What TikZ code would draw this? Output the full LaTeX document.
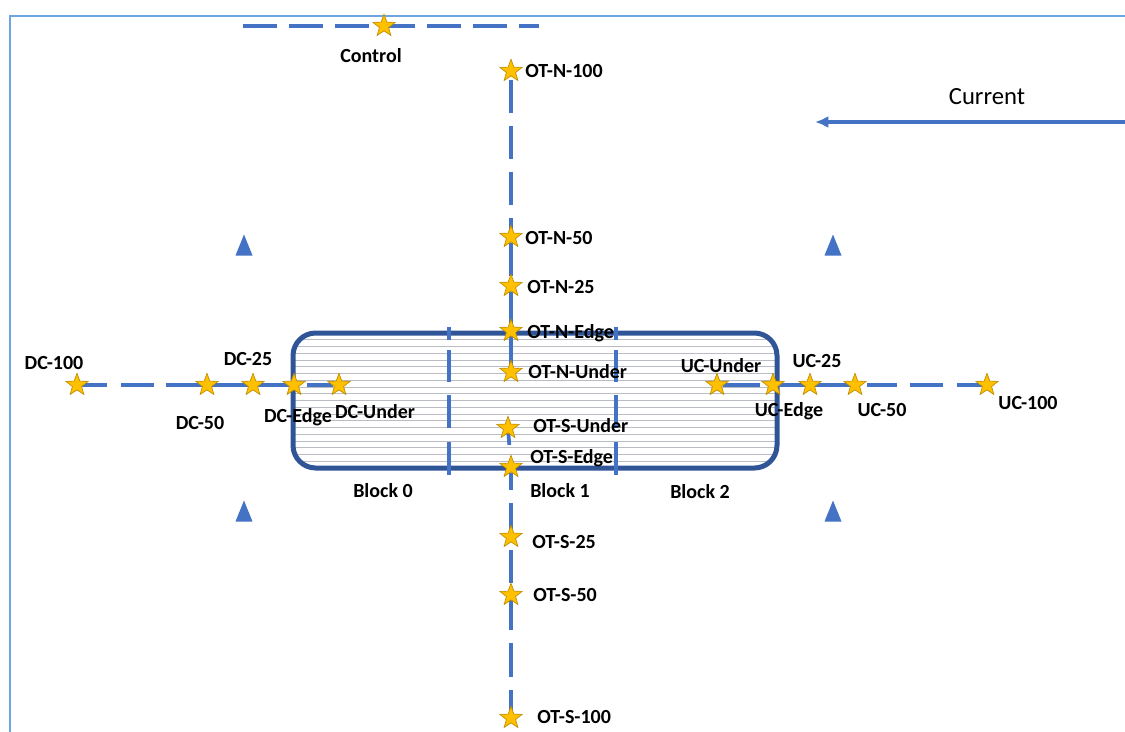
\documentclass[tikz,border=0pt]{standalone}
\usepackage{fontspec}
\setmainfont{Carlito}
\usetikzlibrary{shapes.geometric,arrows.meta}
\definecolor{lineblue}{RGB}{68,114,196}
\definecolor{darkblue}{RGB}{47,85,151}
\definecolor{frameblue}{RGB}{110,165,225}
\definecolor{hatchgray}{RGB}{185,188,195}
\definecolor{starfill}{RGB}{255,192,0}
\definecolor{staredge}{RGB}{190,140,0}
\pgfdeclarelayer{blk}
\pgfdeclarelayer{lns}
\pgfsetlayers{blk,lns,main}
\tikzset{tri/.pic={\fill[lineblue] (-8.5,10.5) -- (0,-10.5) -- (8.5,10.5) -- cycle;}}
\begin{document}
\begin{tikzpicture}[x=0.75pt,y=-0.75pt,
  startag/.style={star, star points=5, star point ratio=2.4, fill=starfill, draw=staredge, line width=0.5pt, minimum size=17.5pt, inner sep=0pt},
  lbl/.style={font=\bfseries\fontsize{15}{18}\selectfont, inner sep=0pt, text height=9.7pt, text depth=0pt},
  conn/.style={draw=lineblue, line width=2.8pt},
  hatchline/.style={draw=hatchgray, line width=0.6pt},
  blockbox/.style={draw=darkblue, line width=3.75pt, rounded corners=17pt, minimum width=363pt, minimum height=101.25pt, inner sep=0pt,
    path picture={\foreach \k in {1,...,19}{\draw[hatchline] ([yshift=-\k*5.0625pt]path picture bounding box.north west) -- ([yshift=-\k*5.0625pt]path picture bounding box.north east);}}},
  divider/.style={draw=lineblue, line width=2.4pt, dash pattern=on 9.75pt off 7.5pt on 24pt off 9.75pt on 24.75pt off 10.5pt on 24.75pt off 1pt},
  framestyle/.style={draw=frameblue, line width=2pt},
  arrowline/.style={draw=lineblue, line width=2.4pt, -{Latex[length=10pt,width=9pt]}}
]
\useasboundingbox (0,0) rectangle (1125,732);
% frame
\draw[framestyle] (10,732) -- (10,16) -- (1125,16);

% block
\begin{pgfonlayer}{blk}
\node (block) [blockbox] at (535,400.5) {};
\draw[divider] (449,327) -- (449,475);
\draw[divider] (616,327) -- (616,475);
\end{pgfonlayer}

% stars
\node (ctrl) [startag] at (384,26) {};
\node (otn100) [startag] at (511,71) {};
\node (otn50) [startag] at (511,237) {};
\node (otn25) [startag] at (511,286) {};
\node (otnedge) [startag] at (511,331) {};
\node (otnunder) [startag] at (511,372) {};
\node (otsunder) [startag] at (508,428) {};
\node (otsedge) [startag] at (511,467) {};
\node (ots25) [startag] at (511,537) {};
\node (ots50) [startag] at (511,595) {};
\node (ots100) [startag] at (511,718) {};
\node (dc100) [startag] at (77,385) {};
\node (dc50) [startag] at (207,385) {};
\node (dc25) [startag] at (253,385) {};
\node (dcedge) [startag] at (294,385) {};
\node (dcunder) [startag] at (339,385) {};
\node (ucunder) [startag] at (717,385) {};
\node (ucedge) [startag] at (773,385) {};
\node (uc25) [startag] at (810,385) {};
\node (uc50) [startag] at (855,385) {};
\node (uc100) [startag] at (987,385) {};

% control line free ends
\coordinate (ctrlL) at (243,26);
\coordinate (ctrlR) at (539,26);

\begin{pgfonlayer}{lns}
\draw[conn, dash pattern=on 25.5pt off 9pt] (ctrlL) -- (ctrlR);
% vertical transect
\draw[conn, dash pattern=on 24.75pt off 9.75pt, dash phase=27.75pt] (otn100.center) -- (otn50.center);
\draw[conn, dash pattern=on 24.75pt off 9.75pt, dash phase=30pt] (otn50.center) -- (otn25.center);
\draw[conn, dash pattern=on 24.75pt off 9.75pt, dash phase=30pt] (otn25.center) -- (otnedge.center);
\draw[conn] (otnedge.center) -- (otnunder.center);
\draw[conn, dash pattern=on 0pt off 3.75pt on 9pt off 30pt] (otsunder.center) -- (otsedge.center);
\draw[conn, dash pattern=on 0pt off 4.5pt on 12.75pt off 9.75pt on 20.25pt off 15pt] (otsedge.center) -- (ots25.center);
\draw[conn, dash pattern=on 0pt off 9.75pt on 24.75pt off 5.25pt on 15pt off 1pt] (ots25.center) -- (ots50.center);
\draw[conn, dash pattern=on 26.25pt off 9.75pt on 25.5pt off 9.75pt on 22.5pt off 10pt] (ots50.center) -- (ots100.center);
% downstream / upstream transect
\draw[conn, dash pattern=on 22.5pt off 10.5pt on 24.75pt off 9pt on 150pt off 1pt] (dc100.center) -- (dc50.center);
\draw[conn] (dc50.center) -- (dcedge.center);
\draw[conn, dash pattern=on 0pt off 9.75pt on 19.5pt off 15pt] (dcedge.center) -- (dcunder.center);
\draw[conn, dash pattern=on 0pt off 4.5pt on 27.75pt off 15pt] (ucunder.center) -- (ucedge.center);
\draw[conn] (ucedge.center) -- (uc50.center);
\draw[conn, dash pattern=on 3.75pt off 5.25pt on 22.5pt off 9.75pt on 24.75pt off 10.5pt on 30pt off 1pt] (uc50.center) -- (uc100.center);
\end{pgfonlayer}

% triangles
\pic at (244,245) {tri};
\pic at (833,245) {tri};
\pic at (244,511) {tri};
\pic at (833,511) {tri};

% current arrow
\coordinate (curS) at (1125,122);
\coordinate (curE) at (815,122);
\draw[arrowline] (curS) -- (curE);
\node (lcur) [inner sep=0pt, font=\fontsize{18.5}{22}\selectfont, text height=12pt, text depth=0pt] at (987,96) {Current};

% labels
\node (lctrl) [lbl] at (371,56) {Control};
\node (lotn100) [lbl, anchor=west] at (525,71) {OT-N-100};
\node (lotn50) [lbl, anchor=west] at (525,238) {OT-N-50};
\node (lotn25) [lbl, anchor=west] at (527,287) {OT-N-25};
\node (lotnedge) [lbl, anchor=west] at (527,332) {OT-N-Edge};
\node (lotnunder) [lbl, anchor=west] at (528,372) {OT-N-Under};
\node (lotsunder) [lbl, anchor=west] at (533,426) {OT-S-Under};
\node (lotsedge) [lbl, anchor=west] at (530,457) {OT-S-Edge};
\node (lblock1) [lbl, anchor=west] at (530,491) {Block 1};
\node (lblock0) [lbl] at (383,491) {Block 0};
\node (lblock2) [lbl] at (700,492) {Block 2};
\node (lots25) [lbl, anchor=west] at (532,542) {OT-S-25};
\node (lots50) [lbl, anchor=west] at (533,595) {OT-S-50};
\node (lots100) [lbl, anchor=west] at (537,717) {OT-S-100};
\node (ldc100) [lbl] at (54,363) {DC-100};
\node (ldc50) [lbl] at (200,423) {DC-50};
\node (ldc25) [lbl] at (248,359) {DC-25};
\node (ldcedge) [lbl] at (298,416) {DC-Edge};
\node (ldcunder) [lbl] at (375,412) {DC-Under};
\node (lucunder) [lbl] at (721,366) {UC-Under};
\node (luc25) [lbl] at (817,361) {UC-25};
\node (lucedge) [lbl] at (789,410) {UC-Edge};
\node (luc50) [lbl] at (882,410) {UC-50};
\node (luc100) [lbl] at (1028,403) {UC-100};
\end{tikzpicture}
\end{document}
